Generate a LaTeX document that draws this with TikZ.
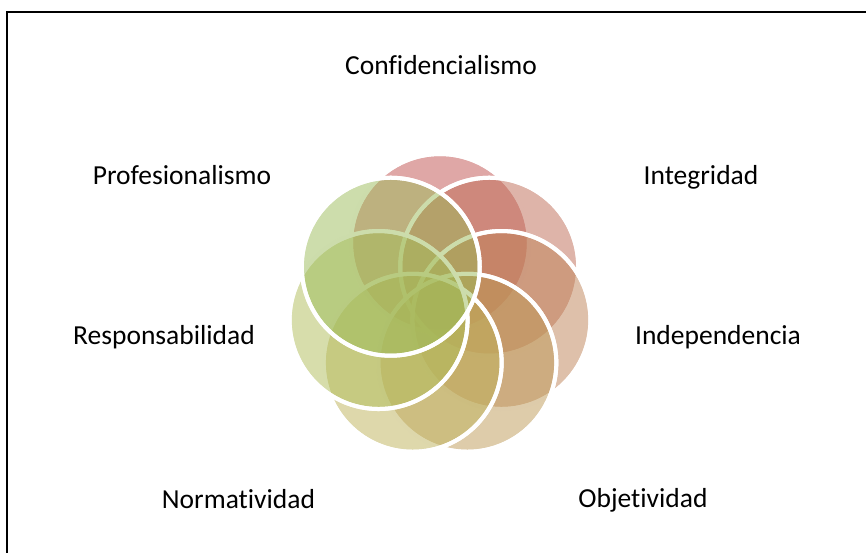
\documentclass[tikz,border=0pt]{standalone}
\usepackage{fontspec}
\setmainfont{Carlito}[Ligatures={NoCommon}]
\definecolor{c0}{RGB}{192,80,77}
\definecolor{c1}{RGB}{190,106,84}
\definecolor{c2}{RGB}{190,130,86}
\definecolor{c3}{RGB}{189,153,86}
\definecolor{c4}{RGB}{189,177,88}
\definecolor{c5}{RGB}{175,188,88}
\definecolor{c6}{RGB}{155,187,89}
\tikzset{
  petal/.style={draw=white, line width=4pt, fill opacity=0.5, draw opacity=1},
  lbl/.style={anchor=base, inner sep=0pt, font=\fontsize{27.5}{30}\selectfont, text=black},
  frame/.style={line width=2pt, draw=black}
}
\begin{document}
\begin{tikzpicture}[x=1pt, y=-1pt]
\useasboundingbox (0,0) rectangle (866,552);
\coordinate (fa) at (7,560);
\coordinate (fb) at (7,12);
\coordinate (fc) at (875,12);
\draw[frame] (fa) -- (fb) -- (fc);
\foreach \k in {0,...,6} {
  \pgfmathsetmacro{\a}{90-\k*360/7}
  \fill[petal, fill=c\k] ({440+63*cos(\a)}, {306-63*sin(\a)}) circle[radius=89];
  \draw[petal, fill=none] ({440+63*cos(\a)}, {306-63*sin(\a)}) circle[radius=89];
}
\node[lbl] (conf) at (441,74) {Confidencialismo};
\node[lbl] (integ) at (701,184) {Integridad};
\node[lbl] (indep) at (718,344) {Independencia};
\node[lbl] (objet) at (643,507) {Objetividad};
\node[lbl] (norm) at (238.5,508) {Normatividad};
\node[lbl] (resp) at (164,344) {Responsabilidad};
\node[lbl] (prof) at (182,184) {Profesionalismo};
\end{tikzpicture}
\end{document}
